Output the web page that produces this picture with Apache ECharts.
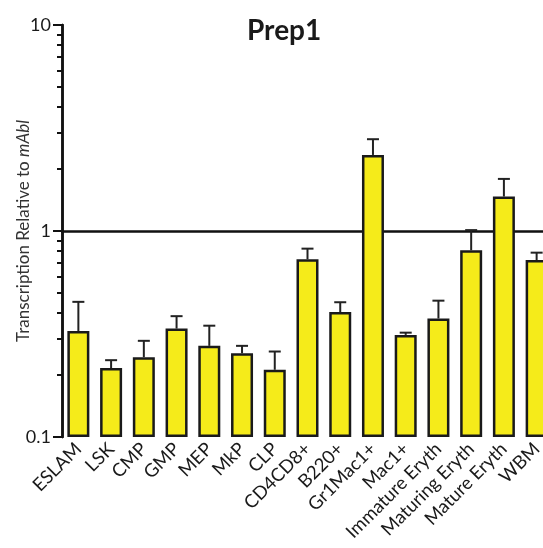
<!DOCTYPE html>
<html>
<head>
<meta charset="utf-8">
<script src="https://cdn.jsdelivr.net/npm/echarts@6/dist/echarts.min.js"></script>
<style>html,body{margin:0;padding:0;background:#fff;}#c{width:543px;height:548px;}</style>
</head>
<body>
<div id="c"></div>
<script>
var categories = ['ESLAM','LSK','CMP','GMP','MEP','MkP','CLP','CD4CD8+','B220+','Gr1Mac1+','Mac1+','Immature Eryth','Maturing Eryth','Mature Eryth','WBM'];
var means = [0.327,0.216,0.244,0.336,0.277,0.255,0.212,0.729,0.404,2.34,0.313,0.376,0.806,1.47,0.723];
var errTops = [0.453,0.236,0.293,0.386,0.347,0.277,0.260,0.821,0.451,2.79,0.321,0.459,1.01,1.79,0.785];
var majorTicks = [0.1,1,10];
var minorTicks = [0.2,0.3,0.4,0.5,0.6,0.7,0.8,0.9,2,3,4,5,6,7,8,9];

var FONT = 'Lato';
var chart = echarts.init(document.getElementById('c'), null, {renderer:'canvas'});
var errData = categories.map(function(c,i){ return [i, means[i], errTops[i]]; });
// minor ticks expressed on a linear log10 axis that spans the same decades
var minorTicksLog = minorTicks.map(function(v){ return Math.log10(v); });

chart.setOption({
  animation:false,
  backgroundColor:'#fff',
  title:{text:'Prep1', left:242, top:12, textStyle:{fontFamily:FONT, fontWeight:'bold', fontSize:28, color:'#1a1a1a'}},
  grid:{left:62, right:-10, top:25, bottom:111, containLabel:false, outerBoundsMode:'none'},
  xAxis:{
    type:'category', data:categories,
    axisLine:{lineStyle:{color:'#111', width:2.5}},
    axisTick:{alignWithLabel:true, length:6, lineStyle:{color:'#111', width:2}},
    axisLabel:{rotate:45, interval:0, margin:9, fontFamily:FONT, fontSize:18.5, color:'#1a1a1a'}
  },
  yAxis:[{
    type:'log', logBase:10, min:0.1, max:10, startValue:0.1,
    name:'Transcription Relative to {i|mAbl}', nameLocation:'middle', nameRotate:90, nameGap:30, nameMoveOverlap:false,
    nameTextStyle:{fontFamily:FONT, fontSize:17, color:'#333', rich:{i:{fontFamily:FONT, fontSize:17, fontStyle:'italic', color:'#333'}}},
    axisLine:{show:true, lineStyle:{color:'#111', width:2.5}},
    axisTick:{show:true, length:9, lineStyle:{color:'#111', width:2}, customValues:majorTicks},
    axisLabel:{customValues:majorTicks, margin:11, fontFamily:FONT, fontSize:18, color:'#1a1a1a',
      formatter:function(v){ return String(v); }},
    splitLine:{show:false}
  },{
    type:'value', min:-1, max:1, position:'left', offset:0,
    axisLine:{show:true, lineStyle:{color:'#111', width:2.5}},
    axisTick:{show:true, length:5, lineStyle:{color:'#111', width:2}, customValues:minorTicksLog},
    axisLabel:{show:false},
    splitLine:{show:false}
  }],
  series:[{
    type:'bar', data:means, barWidth:22,
    itemStyle:{color:'#f5eb1a', borderColor:'#1a1a1a', borderWidth:2.5},
    z:2
  },{
    type:'custom', data:errData, encode:{x:0, y:[1,2]}, z:1,
    renderItem:function(params, api){
      var p0 = api.coord([api.value(0), api.value(1)]);
      var p1 = api.coord([api.value(0), api.value(2)]);
      var half = 6;
      return {type:'group', children:[
        {type:'line', shape:{x1:p0[0], y1:p0[1], x2:p1[0], y2:p1[1]}, style:{stroke:'#222', lineWidth:2}},
        {type:'line', shape:{x1:p1[0]-half, y1:p1[1], x2:p1[0]+half, y2:p1[1]}, style:{stroke:'#222', lineWidth:2}}
      ]};
    }
  }]
});
</script>
</body>
</html>
